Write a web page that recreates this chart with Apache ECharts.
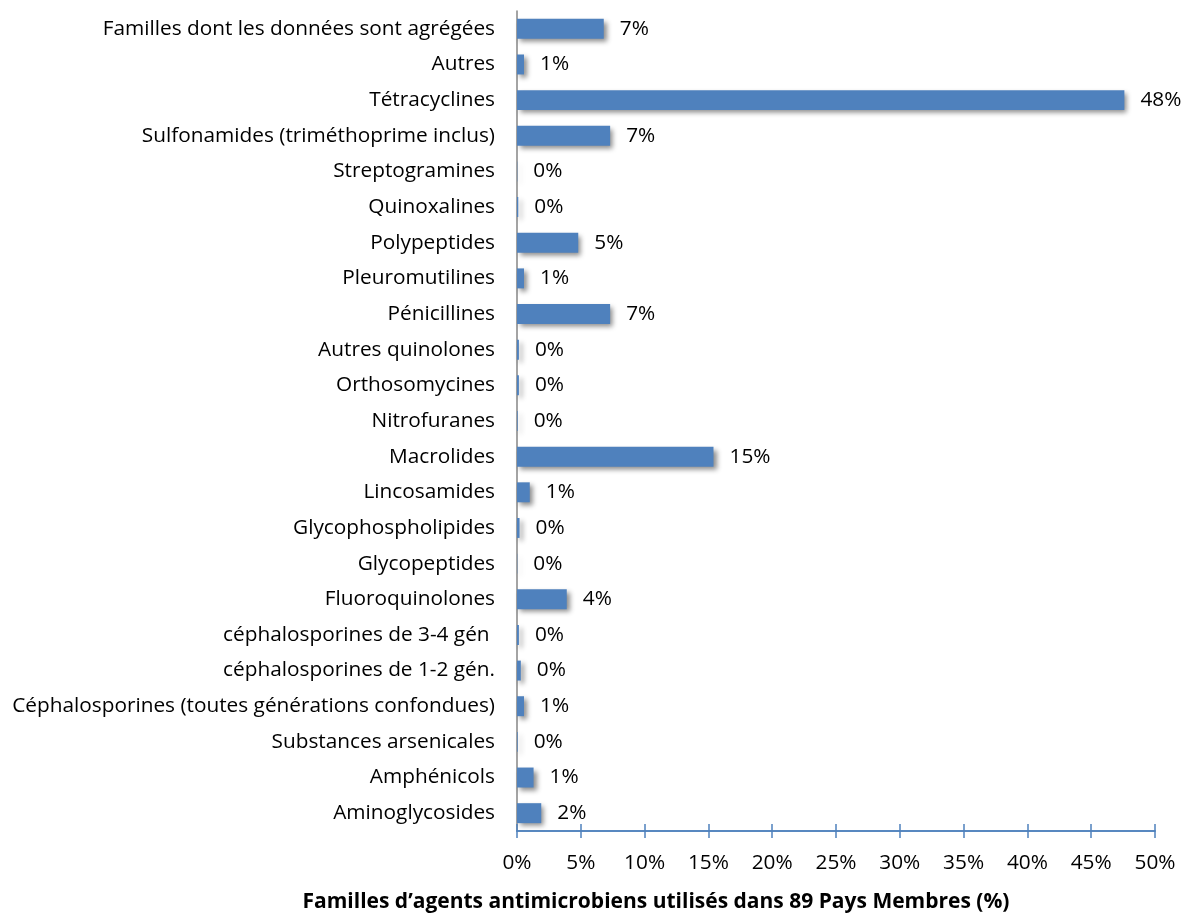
<!DOCTYPE html>
<html>
<head>
<meta charset="utf-8">
<script src="https://cdn.jsdelivr.net/npm/echarts@6/dist/echarts.min.js"></script>
<style>
  html, body { margin: 0; padding: 0; background: #fff; }
  #chart { width: 1184px; height: 917px; }
</style>
</head>
<body>
<div id="chart"></div>
<script>
// Antimicrobial families, listed bottom to top as on the category axis
const categories = [
  'Aminoglycosides',
  'Amphénicols',
  'Substances arsenicales',
  'Céphalosporines (toutes générations confondues)',
  'céphalosporines de 1-2 gén.',
  'céphalosporines de 3-4 gén ',
  'Fluoroquinolones',
  'Glycopeptides',
  'Glycophospholipides',
  'Lincosamides',
  'Macrolides',
  'Nitrofuranes',
  'Orthosomycines',
  'Autres quinolones',
  'Pénicillines',
  'Pleuromutilines',
  'Polypeptides',
  'Quinoxalines',
  'Streptogramines',
  'Sulfonamides (triméthoprime inclus)',
  'Tétracyclines',
  'Autres',
  'Familles dont les données sont agrégées'
];

// Share of use (%) for each family
const shares = [
  1.9, 1.3, 0.05, 0.55, 0.3, 0.15, 3.9, 0.02, 0.2, 1.0, 15.4, 0.05,
  0.15, 0.15, 7.3, 0.55, 4.8, 0.1, 0.02, 7.3, 47.6, 0.55, 6.8
];

const xTicks = { min: 0, max: 50, interval: 5 };
const axisTitle = 'Familles d’agents antimicrobiens utilisés dans 89 Pays Membres (%)';

const FONT = 'Open Sans';
const FS = 20.8;
const chart = echarts.init(document.getElementById('chart'), null, { renderer: 'canvas' });

const xBase = {
  type: 'value',
  min: xTicks.min,
  max: xTicks.max,
  interval: xTicks.interval,
  position: 'bottom',
  splitLine: { show: false },
  axisLine: { show: true, lineStyle: { color: '#4F81BD', width: 1.5 } }
};

chart.setOption({
  animation: false,
  textStyle: { fontFamily: FONT },
  title: {
    text: axisTitle,
    left: 651,
    top: 887,
    textAlign: 'center',
    textStyle: { fontFamily: FONT, fontSize: 21, fontWeight: 'bold', color: '#000' }
  },
  grid: { left: 517, right: 29, top: 11, bottom: 86, containLabel: false },
  xAxis: [
    Object.assign({}, xBase, {
      axisTick: { show: true, inside: false, length: 7, lineStyle: { color: '#4F81BD', width: 1.5 } },
      axisLabel: {
        formatter: v => v + '%',
        fontFamily: FONT, fontSize: FS, color: '#000', margin: 22
      }
    }),
    Object.assign({}, xBase, {
      axisTick: { show: true, inside: true, length: 7, lineStyle: { color: '#4F81BD', width: 1.5 } },
      axisLabel: { show: false }
    })
  ],
  yAxis: {
    type: 'category',
    data: categories,
    axisLine: { show: true, lineStyle: { color: '#868686', width: 1.5 } },
    axisTick: { show: false },
    axisLabel: { fontFamily: FONT, fontSize: FS, color: '#000', margin: 22 }
  },
  series: [{
    type: 'bar',
    data: shares,
    xAxisIndex: 0,
    barCategoryGap: '44%',
    itemStyle: {
      color: '#4F81BD',
      shadowColor: 'rgba(0,0,0,0.45)',
      shadowBlur: 5,
      shadowOffsetX: 3,
      shadowOffsetY: 3
    },
    label: {
      show: true,
      position: 'right',
      distance: 16,
      formatter: p => Math.round(p.value) + '%',
      fontFamily: FONT, fontSize: FS, color: '#000'
    }
  }]
});
</script>
</body>
</html>
